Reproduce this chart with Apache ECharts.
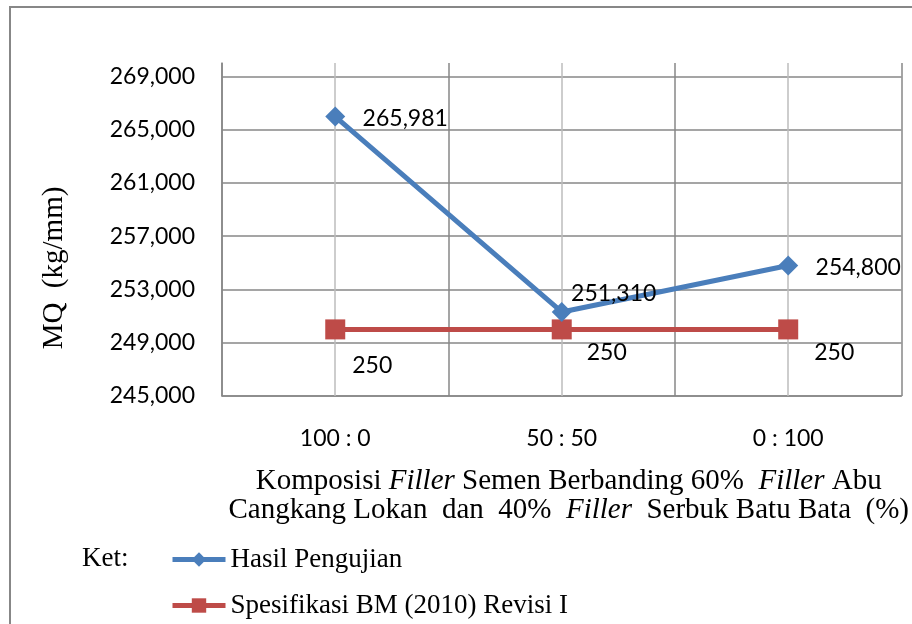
<!DOCTYPE html>
<html>
<head>
<meta charset="utf-8">
<script src="https://cdn.jsdelivr.net/npm/echarts@6/dist/echarts.min.js"></script>
<style>
  html, body { margin: 0; padding: 0; background: #fff; }
  #chart { width: 912px; height: 624px; }
</style>
</head>
<body>
<div id="chart"></div>
<script>
var categories = ['100 : 0', '50 : 50', '0 : 100'];
var hasilValues = [265981, 251310, 254800];
var hasilText = ['265,981', '251,310', '254,800'];
var spekValues = [250000, 250000, 250000];
var spekText = ['250', '250', '250'];
var seriesNames = ['Hasil Pengujian', 'Spesifikasi BM (2010) Revisi I'];

// label offsets relative to each point (style only)
var hasilOffsets = [[70, 2], [52, -18], [70, 2]];
var spekOffsets = [[37, 36], [45, 23], [46, 23]];

var sansFont = 'Lato';
var serifFont = 'Liberation Serif';
var gridColor = '#878787';
var blue = '#4a7ebb';
var red = '#be4b48';

var chart = echarts.init(document.getElementById('chart'));

function makeData(values, texts, offsets) {
	return values.map(function(v, i) {
		return {
			value: v,
			label: { offset: offsets[i], formatter: texts[i] }
		};
	});
}

function legendFor(name, top) {
	return {
		orient: 'vertical',
		left: 165,
		top: top,
		itemWidth: 53,
		itemHeight: 18,
		data: [name],
		lineStyle: { width: 5 },
		textStyle: { fontFamily: serifFont, fontSize: 27, color: '#000' }
	};
}

var option = {
	backgroundColor: '#fff',
	animation: false,
	title: {
		text: 'Ket:',
		left: 77,
		top: 540,
		textStyle: { fontFamily: serifFont, fontSize: 27, fontWeight: 'normal', color: '#000' }
	},
	legend: [legendFor(seriesNames[0], 541), legendFor(seriesNames[1], 587)],
	graphic: [{
		type: 'rect',
		shape: { x: 10, y: 7, width: 1000, height: 1000 },
		style: { fill: 'none', stroke: gridColor, lineWidth: 2 },
		silent: true
	}],
	grid: {
		left: 222,
		right: 10,
		top: 63,
		bottom: 228
	},
	xAxis: {
		type: 'category',
		data: categories,
		boundaryGap: true,
		axisLine: { lineStyle: { color: gridColor, width: 1.5 } },
		axisTick: { alignWithLabel: true, length: 5, lineStyle: { color: '#bdbdbd', width: 1.5 } },
		splitLine: { show: true, lineStyle: { color: gridColor, width: 1.5 } },
		axisLabel: { fontFamily: sansFont, fontSize: 23, color: '#000', margin: 31 },
		name: 'Komposisi {i|Filler} Semen Berbanding 60%  {i|Filler} Abu\nCangkang Lokan  dan  40%  {i|Filler}  Serbuk Batu Bata  (%)',
		nameLocation: 'middle',
		nameGap: 71,
		nameTextStyle: {
			fontFamily: serifFont,
			fontSize: 29,
			color: '#000',
			lineHeight: 29,
			padding: [0, 0, 0, 14],
			rich: {
				i: { fontFamily: serifFont, fontSize: 29, fontStyle: 'italic', color: '#000', lineHeight: 29 }
			}
		}
	},
	yAxis: {
		type: 'value',
		min: 245000,
		max: 270000,
		interval: 4000,
		axisLine: { show: true, lineStyle: { color: gridColor, width: 1.5 } },
		axisTick: { show: false },
		splitLine: { show: true, showMaxLine: false, lineStyle: { color: gridColor, width: 1.5 } },
		axisLabel: {
			showMaxLabel: false,
			fontFamily: sansFont,
			fontSize: 23,
			color: '#000',
			margin: 27
		},
		name: 'MQ  (kg/mm)',
		nameLocation: 'middle',
		nameGap: 153,
		nameTextStyle: {
			fontFamily: serifFont,
			fontSize: 29,
			color: '#000',
			padding: [0, 77, 0, 0]
		}
	},
	series: [{
		name: seriesNames[0],
		type: 'line',
		data: makeData(hasilValues, hasilText, hasilOffsets),
		symbol: 'diamond',
		symbolSize: 20,
		z: 4,
		lineStyle: { color: blue, width: 5 },
		itemStyle: { color: blue },
		label: {
			show: true,
			position: 'inside',
			fontFamily: sansFont,
			fontSize: 23,
			color: '#000'
		},
		markLine: {
			silent: true,
			z: 1,
			symbol: 'none',
			label: { show: false },
			lineStyle: { color: '#bdbdbd', type: 'solid', width: 1.5 },
			data: categories.map(function(c) { return { xAxis: c }; })
		}
	}, {
		name: seriesNames[1],
		type: 'line',
		data: makeData(spekValues, spekText, spekOffsets),
		symbol: 'rect',
		symbolSize: 20,
		z: 3,
		lineStyle: { color: red, width: 5 },
		itemStyle: { color: red },
		label: {
			show: true,
			position: 'inside',
			fontFamily: sansFont,
			fontSize: 23,
			color: '#000'
		}
	}]
};

chart.setOption(option);
</script>
</body>
</html>
